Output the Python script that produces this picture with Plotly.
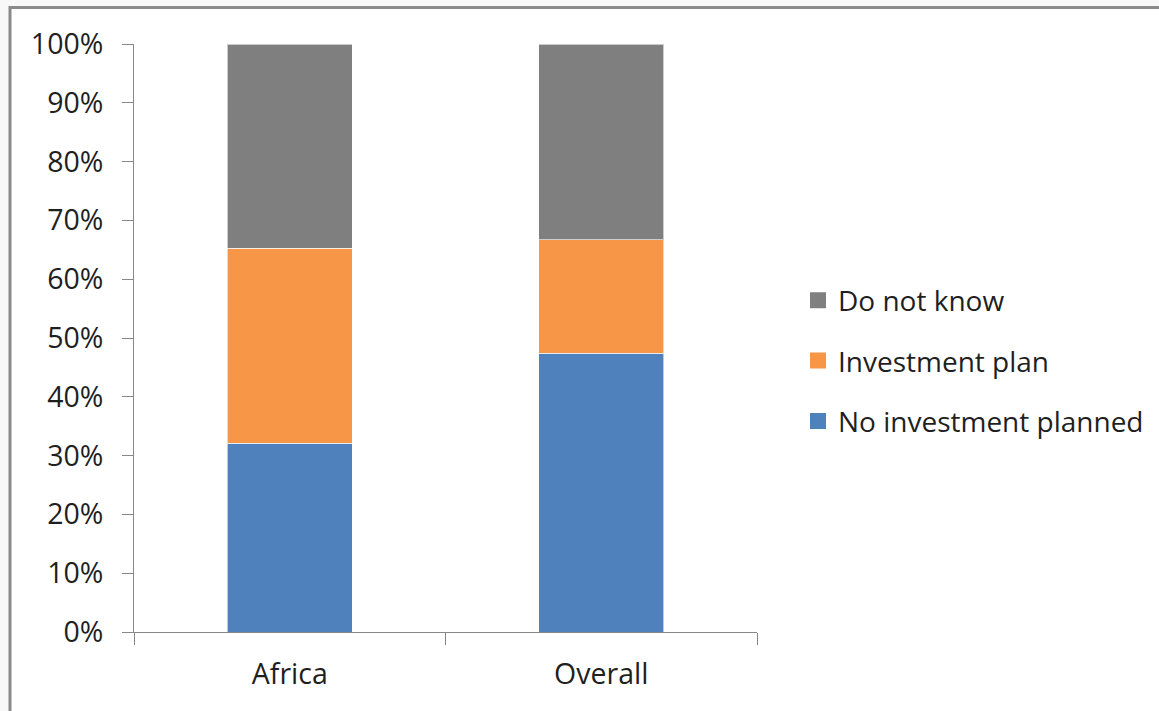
import plotly.graph_objects as go

categories = ["Africa", "Overall"]
series_names = ["No investment planned", "Investment plan", "Do not know"]
no_investment = [0.321, 0.474]
investment_plan = [0.332, 0.193]
do_not_know = [0.347, 0.333]
colors = ["#4F81BD", "#F79646", "#7F7F7F"]
y_ticks = [i / 10 for i in range(11)]

FONT = "Open Sans"
FS = 28.5
TXT = "#1f1f1f"
AX = "#878787"

# plot area in pixels
L, R, T, B = 134, 757, 44, 632
W, H = 1159, 711

def px_x(p):
    return (p - L) / (R - L)

def px_y(p):
    return (B - p) / (B - T)

fig = go.Figure()
series = list(zip(series_names, [no_investment, investment_plan, do_not_know], colors))
for name, vals, col in series:
    fig.add_trace(go.Bar(
        x=categories, y=vals, name=name, marker_color=col,
        marker_line=dict(color="rgba(255,255,255,0.6)", width=1),
        showlegend=False, width=0.4,
    ))
for name, vals, col in reversed(series):
    fig.add_trace(go.Scatter(
        x=[None], y=[None], mode="markers", name=name, legendgroup=name,
        marker=dict(symbol="square", size=16, color=col), showlegend=True,
    ))

shapes = [
    dict(type="rect", xref="paper", yref="paper",
         x0=px_x(10), x1=px_x(W + 20), y0=px_y(W + 20), y1=px_y(7.5),
         fillcolor="white", line=dict(color="#8a8a8a", width=3), layer="below"),
]

fig.update_layout(
    width=W, height=H,
    margin=dict(l=L, r=W - R, t=T, b=H - B, pad=0, autoexpand=False),
    paper_bgcolor="#f8f8f8", plot_bgcolor="white",
    barmode="stack", bargap=0.6,
    font=dict(family=FONT, size=FS, color=TXT),
    shapes=shapes,
    showlegend=True,
    legend=dict(
        xref="container", yref="container",
        x=798 / W, xanchor="left", y=(H - 361) / H, yanchor="middle",
        traceorder="grouped", tracegroupgap=21,
        font=dict(family=FONT, size=28, color=TXT),
        bgcolor="rgba(0,0,0,0)",
    ),
    xaxis=dict(
        type="category", showline=True, linecolor=AX, linewidth=1,
        ticks="outside", tickson="boundaries", ticklen=12, tickcolor=AX,
        showgrid=False, zeroline=False, ticklabelstandoff=17,
        range=[-0.5, 1.5],
    ),
    yaxis=dict(
        range=[0, 1], tickvals=y_ticks, tickformat=".0%",
        showline=True, linecolor=AX, linewidth=1,
        ticks="outside", ticklen=11, tickcolor=AX,
        showgrid=False, zeroline=False, ticklabelstandoff=13,
    ),
)

fig.write_html("out.html")
